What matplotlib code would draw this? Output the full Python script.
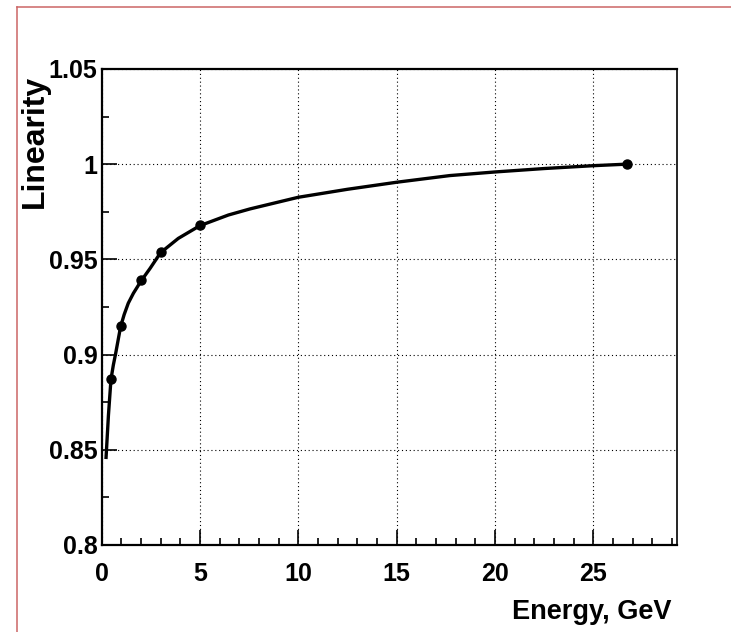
import matplotlib
matplotlib.use('Agg')
import matplotlib.pyplot as plt
from matplotlib.lines import Line2D
from matplotlib.ticker import MultipleLocator

# measured points: beam energy (GeV) and linearity
energy = [0.5, 1.0, 2.0, 3.0, 5.0, 26.7]
linearity = [0.887, 0.915, 0.939, 0.954, 0.968, 1.000]

# fitted curve, sampled along its length
fit_energy = [0.23, 0.35, 0.48, 0.60, 0.72, 0.85, 0.97, 1.15, 1.36, 1.62, 2.0, 2.47,
              3.0, 3.9, 5.0, 6.45, 7.55, 10.0, 12.5, 15.0, 17.7, 20.0, 22.5, 25.0, 26.7]
fit_linearity = [0.846, 0.868, 0.887, 0.8945, 0.9007, 0.908, 0.9147, 0.921, 0.927, 0.9322, 0.9385, 0.9453,
                 0.9535, 0.961, 0.9677, 0.9733, 0.9765, 0.9826, 0.9868, 0.9905, 0.994, 0.9959, 0.9977, 0.9992, 1.0]

plt.rcParams['font.family'] = ['Liberation Sans', 'DejaVu Sans']
plt.rcParams['font.weight'] = 'bold'

fig = plt.figure(figsize=(7.31, 6.32), dpi=100)
ax = fig.add_axes([0.1389, 0.1377, 0.7872, 0.7532])

ax.plot(fit_energy, fit_linearity, color='black', lw=2.4, solid_joinstyle='round', zorder=3)
ax.plot(energy, linearity, 'o', color='black', ms=6.5, zorder=4)

ax.set_xlim(0, 29.25)
ax.set_ylim(0.8, 1.05)
ax.xaxis.set_major_locator(MultipleLocator(5))
ax.xaxis.set_minor_locator(MultipleLocator(1))
ax.yaxis.set_major_locator(MultipleLocator(0.05))
ax.yaxis.set_minor_locator(MultipleLocator(0.025))
ax.yaxis.set_major_formatter(plt.FuncFormatter(lambda v, p: ('%.2f' % v).rstrip('0').rstrip('.')))

ax.grid(True, which='major', color='black', linestyle=(0, (1, 2.5)), lw=0.8)
ax.tick_params(which='both', direction='in', top=False, right=False, labelsize=18, width=1.2)
ax.tick_params(which='major', length=11)
ax.tick_params(which='minor', length=5)
ax.tick_params(axis='x', which='major', pad=12)
ax.tick_params(axis='y', which='major', pad=3)
for lab in ax.get_xticklabels() + ax.get_yticklabels():
    lab.set_fontweight('bold')

for side in ['left', 'bottom', 'top']:
    ax.spines[side].set_linewidth(1.6)
ax.spines['right'].set_linewidth(1.2)

ax.set_xlabel('Energy, GeV', fontsize=19.5, fontweight='bold', loc='right')
ax.xaxis.set_label_coords(0.9913, -0.113)
ax.set_ylabel('Linearity', fontsize=23, fontweight='bold', loc='top')
ax.yaxis.set_label_coords(-0.089, 0.987)

# canvas border
fig.add_artist(Line2D([17.3 / 731, 17.3 / 731], [0, 1 - 6.7 / 632], transform=fig.transFigure,
                      color='#cc6666', lw=1.1))
fig.add_artist(Line2D([17.3 / 731, 1], [1 - 6.7 / 632, 1 - 6.7 / 632], transform=fig.transFigure,
                      color='#cc6666', lw=1.1))

fig.savefig('out.png', dpi=100)
